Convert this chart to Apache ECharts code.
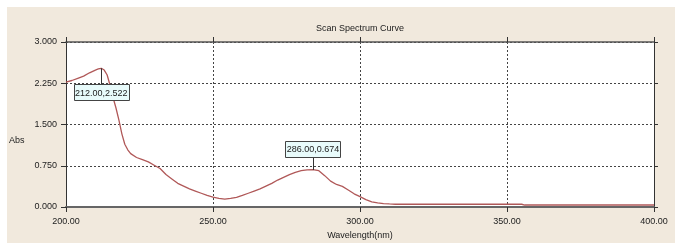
<!DOCTYPE html>
<html>
<head>
<meta charset="utf-8">
<script src="https://cdn.jsdelivr.net/npm/echarts@6/dist/echarts.min.js"></script>
<style>
html,body{margin:0;padding:0;background:#fff;}
#c{width:675px;height:245px;}
</style>
</head>
<body>
<div id="c"></div>
<script>
var titleText = 'Scan Spectrum Curve';
var xName = 'Wavelength(nm)';
var yName = 'Abs';
var xTicks = [200, 250, 300, 350, 400];
var yTicks = [0, 0.75, 1.5, 2.25, 3];

var wavelength = [200,202,204,206,208,210,211,212,213,214,215,216,217,218,219,220,221,222,224,226,228,230,232,234,236,238,240,242,244,246,248,250,252,254,256,258,260,262,264,266,268,270,272,274,276,278,280,282,284,286,288,290,292,294,296,298,300,302,304,306,308,310,312,320,330,340,350,355,356,360,370,380,390,400];
var absorbance = [2.27,2.30,2.34,2.38,2.44,2.49,2.51,2.522,2.49,2.40,2.21,1.99,1.80,1.58,1.33,1.14,1.04,0.97,0.90,0.86,0.82,0.76,0.70,0.59,0.51,0.43,0.38,0.33,0.29,0.25,0.21,0.18,0.155,0.145,0.155,0.175,0.21,0.25,0.29,0.33,0.38,0.43,0.49,0.54,0.59,0.63,0.66,0.675,0.68,0.66,0.57,0.47,0.41,0.375,0.31,0.24,0.19,0.135,0.095,0.075,0.062,0.055,0.05,0.05,0.05,0.05,0.05,0.05,0.036,0.036,0.036,0.036,0.036,0.036];

var annX = [212, 284];
var annY = [2.522, 0.674];
var annText = ['212.00,2.522', '286.00,0.674'];
var annAbove = [0, 1];

var lineData = wavelength.map(function (w, i) { return [w, absorbance[i]]; });
var annData = annX.map(function (x, i) { return [x, annY[i], annAbove[i]]; });

var chart = echarts.init(document.getElementById('c'), null, {renderer: 'canvas'});
var font = 'Liberation Sans, Arial, sans-serif';
var dotted = {color: '#444', width: 1, type: [2, 2]};

chart.setOption({
  backgroundColor: '#fff',
  animation: false,
  graphic: [
    {type: 'rect', left: 7, top: 7, z: -10, shape: {width: 668, height: 236}, style: {fill: '#f1e9dd'}},
    {type: 'text', left: 9, top: 136, style: {text: yName, font: '9px ' + font, fill: '#222'}}
  ],
  title: {
    text: titleText, left: 311, top: 19,
    textStyle: {fontSize: 9, fontWeight: 'normal', color: '#222', fontFamily: font}
  },
  grid: {left: 66, right: 21, top: 42, bottom: 34, show: true, backgroundColor: '#fff', borderWidth: 0},
  xAxis: [
    {
      type: 'value', min: xTicks[0], max: xTicks[xTicks.length - 1], interval: xTicks[1] - xTicks[0], position: 'bottom',
      name: xName, nameLocation: 'middle', nameGap: 24,
      nameTextStyle: {fontSize: 9, color: '#222', fontFamily: font},
      axisLine: {show: true, onZero: false, lineStyle: {color: '#666', width: 2}},
      axisTick: {show: true, inside: false, length: 5, lineStyle: {color: '#333'}},
      axisLabel: {fontSize: 9, color: '#222', fontFamily: font, margin: 10, formatter: function (v) { return v.toFixed(2); }},
      splitLine: {show: true, lineStyle: dotted}
    },
    {
      type: 'value', min: xTicks[0], max: xTicks[xTicks.length - 1], interval: xTicks[1] - xTicks[0], position: 'top',
      axisLine: {show: true, onZero: false, lineStyle: {color: '#555', width: 1.5}},
      axisTick: {show: true, inside: false, length: 5, lineStyle: {color: '#333'}},
      axisLabel: {show: false}, splitLine: {show: false}
    }
  ],
  yAxis: [
    {
      type: 'value', min: yTicks[0], max: yTicks[yTicks.length - 1], interval: yTicks[1] - yTicks[0], position: 'left',
      axisLine: {show: true, onZero: false, lineStyle: {color: '#333', width: 1}},
      axisTick: {show: true, inside: false, length: 5, lineStyle: {color: '#333'}},
      axisLabel: {fontSize: 9, color: '#222', fontFamily: font, margin: 9, formatter: function (v) { return v.toFixed(3); }},
      splitLine: {show: true, lineStyle: dotted}
    },
    {
      type: 'value', min: yTicks[0], max: yTicks[yTicks.length - 1], interval: yTicks[1] - yTicks[0], position: 'right',
      axisLine: {show: true, onZero: false, lineStyle: {color: '#333', width: 1}},
      axisTick: {show: true, inside: false, length: 4, lineStyle: {color: '#333'}},
      axisLabel: {show: false}, splitLine: {show: false}
    }
  ],
  series: [
    {
      type: 'line', data: lineData, showSymbol: false, smooth: false, clip: true,
      lineStyle: {color: '#b05858', width: 1.3}
    },
    {
      type: 'custom', data: annData, z: 5,
      renderItem: function (params, api) {
        var p = api.coord([api.value(0), api.value(1)]);
        var above = api.value(2) === 1;
        var w = 55, h = 16;
        var boxTop = above ? p[1] - 13 - h : p[1] + 16;
        var lineEnd = above ? p[1] - 13 : p[1] + 16;
        return {
          type: 'group',
          children: [
            {type: 'line', shape: {x1: Math.round(p[0]) + 0.5, y1: p[1], x2: Math.round(p[0]) + 0.5, y2: lineEnd}, style: {stroke: '#333', lineWidth: 1}},
            {type: 'rect', shape: {x: Math.round(p[0] - w / 2) + 0.5, y: Math.round(boxTop) + 0.5, width: w, height: h}, style: {fill: '#e8fbfb', stroke: '#444', lineWidth: 1}},
            {type: 'text', x: p[0], y: boxTop + h / 2 + 1, style: {text: annText[params.dataIndex], font: '9px ' + font, fill: '#222', align: 'center', verticalAlign: 'middle'}}
          ]
        };
      }
    }
  ]
});
</script>
</body>
</html>
